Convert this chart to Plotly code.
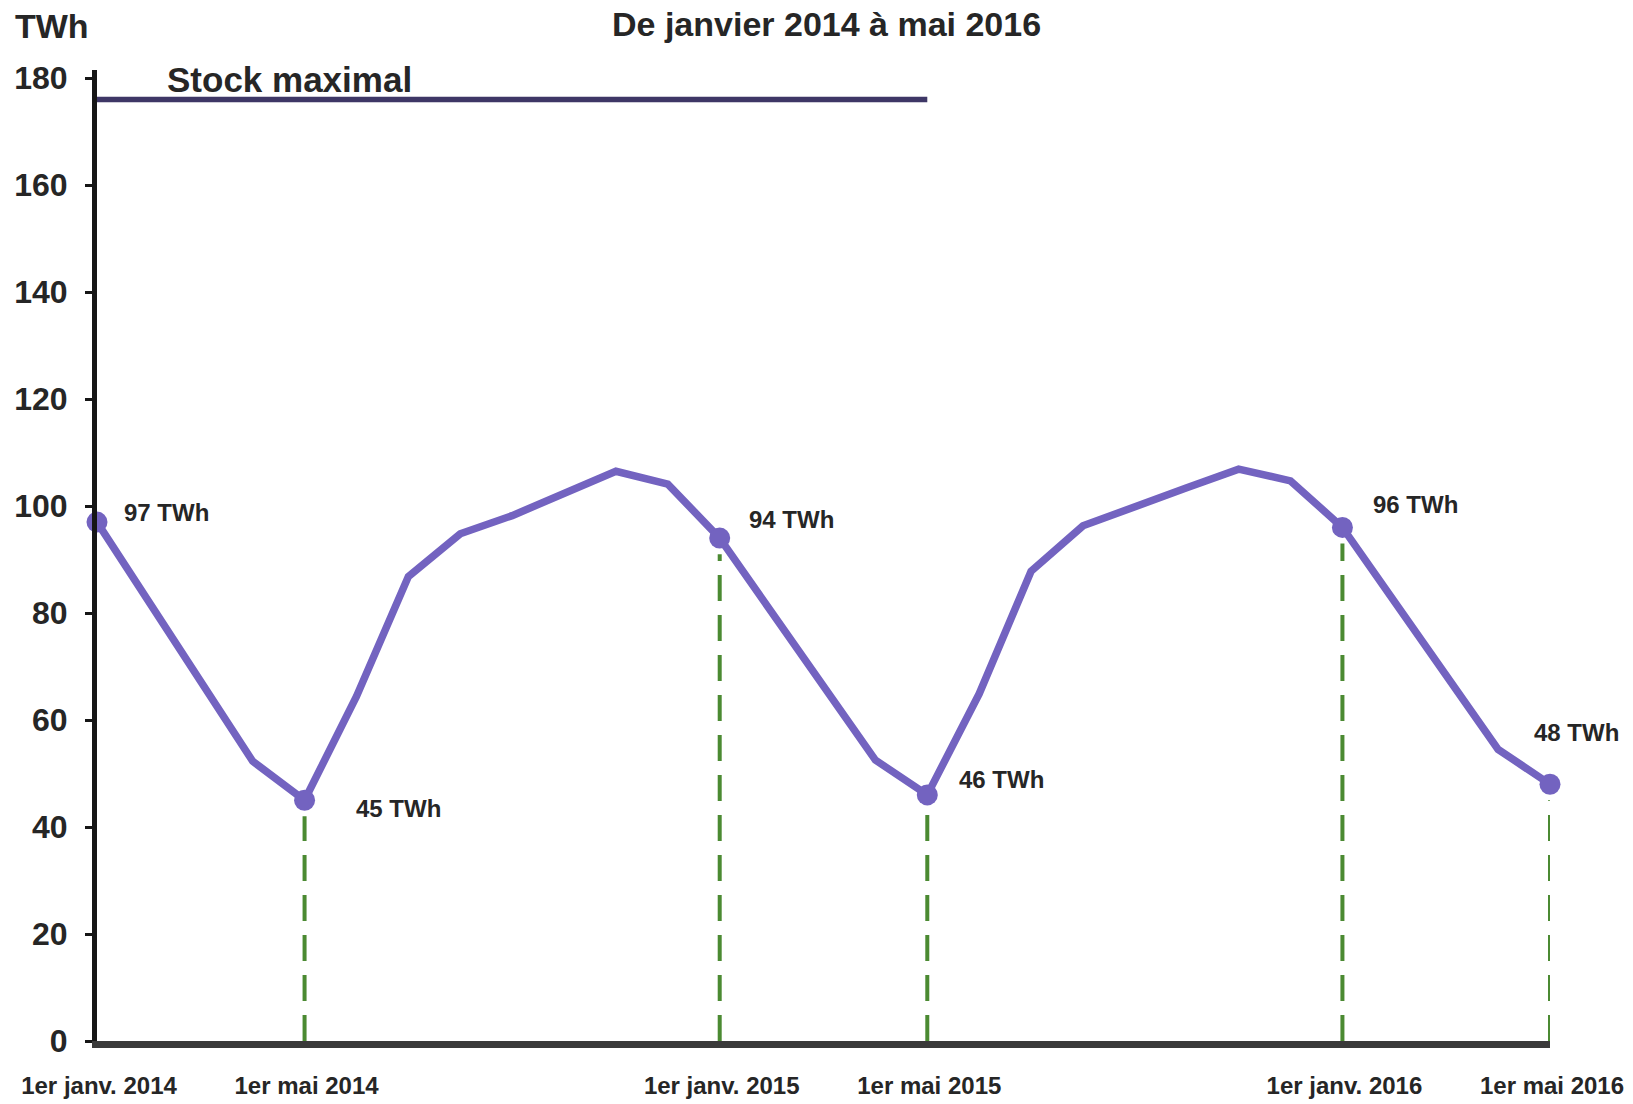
import plotly.graph_objects as go

# ---------------- data ----------------
months = ["2014-01", "2014-04", "2014-05", "2014-06", "2014-07", "2014-08", "2014-09",
          "2014-10", "2014-11", "2014-12", "2015-01", "2015-04", "2015-05", "2015-06",
          "2015-07", "2015-08", "2015-09", "2015-10", "2015-11", "2015-12", "2016-01",
          "2016-04", "2016-05"]
stock_twh = [97, 52.3, 45, 64.4, 86.8, 94.8, 98.2, 102.3, 106.5, 104.1, 94, 52.5, 46,
             64.9, 87.8, 96.3, 99.7, 103.4, 106.9, 104.7, 96, 54.5, 48]

key_months = ["2014-01", "2014-05", "2015-01", "2015-05", "2016-01", "2016-05"]
key_values = [97, 45, 94, 46, 96, 48]
key_texts = ["97 TWh", "45 TWh", "94 TWh", "46 TWh", "96 TWh", "48 TWh"]

tick_months = ["2014-01", "2014-05", "2015-01", "2015-05", "2016-01", "2016-05"]
tick_labels = ["1er janv. 2014", "1er mai 2014", "1er janv. 2015", "1er mai 2015",
               "1er janv. 2016", "1er mai 2016"]

stock_max_months = ["2014-01", "2015-05"]
stock_max_value = 176

y_ticks = [0, 20, 40, 60, 80, 100, 120, 140, 160, 180]

title_text = "De janvier 2014 à mai 2016"
unit_text = "TWh"
stock_max_text = "Stock maximal"

# ---------------- styles ----------------
FONT = "Liberation Sans, Arial, sans-serif"
TXT = "#262626"
PURPLE = "#7363c0"
GREEN = "#4b8a32"
# label offsets (px): (xshift, yshift, xanchor)
label_offsets = [(25, 10, "left"), (49, -8, "left"), (27, 19, "left"),
                 (30, 15, "left"), (29, 23, "left"), (26, 52, "center")]


def midx(s):
    y, m = s.split("-")
    return (int(y) - 2014) * 12 + int(m) - 1


fig = go.Figure()

# green dashed guides (from axis up to just below each key point, except the first)
for mo, v in zip(key_months[1:], key_values[1:]):
    fig.add_trace(go.Scatter(
        x=[midx(mo), midx(mo)], y=[0, v - 3], mode="lines",
        line=dict(color=GREEN, width=4, dash="26px,14px"),
        hoverinfo="skip", showlegend=False, cliponaxis=False))

# stock maximal line
fig.add_trace(go.Scatter(
    x=[midx(m) for m in stock_max_months], y=[stock_max_value] * len(stock_max_months),
    mode="lines", line=dict(color="#3e3766", width=5.5),
    showlegend=False, cliponaxis=False))

# main curve
fig.add_trace(go.Scatter(
    x=[midx(m) for m in months], y=stock_twh, mode="lines",
    line=dict(color=PURPLE, width=7.5), showlegend=False, cliponaxis=False))

# key markers
fig.add_trace(go.Scatter(
    x=[midx(m) for m in key_months], y=key_values, mode="markers",
    marker=dict(color=PURPLE, size=21), showlegend=False, cliponaxis=False))

# value labels
for mo, v, t, (dx, dy, xa) in zip(key_months, key_values, key_texts, label_offsets):
    fig.add_annotation(x=midx(mo), y=v, text=t, showarrow=False,
                       xanchor=xa, yanchor="middle", xshift=dx, yshift=dy,
                       font=dict(family=FONT, size=24, color=TXT, weight="bold"))

# stock maximal label
fig.add_annotation(x=midx(stock_max_months[0]), y=stock_max_value, text=stock_max_text,
                   showarrow=False, xanchor="left", yanchor="middle", xshift=68, yshift=20,
                   font=dict(family=FONT, size=35, color=TXT, weight="bold"))

# unit label
fig.add_annotation(xref="paper", yref="paper", x=-0.058, y=1.048, text=unit_text,
                   showarrow=False, xanchor="left", yanchor="middle", yshift=-3,
                   font=dict(family=FONT, size=34, color=TXT, weight="bold"))

# title
fig.add_annotation(xref="paper", yref="paper", x=0.5021, y=1.058, text=title_text,
                   showarrow=False, xanchor="center", yanchor="middle", yshift=-10,
                   font=dict(family=FONT, size=34, color=TXT, weight="bold"))

# The page places the figure 8 px from the top-left corner; margins compensate.
fig.update_layout(
    width=1633, height=1104,
    margin=dict(l=89, r=91, t=62, b=71, autoexpand=False),
    paper_bgcolor="white", plot_bgcolor="white",
    showlegend=False,
    xaxis=dict(range=[0, 28], tickvals=[midx(m) for m in tick_months], ticktext=tick_labels,
               showgrid=False, zeroline=False, showline=True, linecolor="#3a3a3a",
               linewidth=7, ticks="", ticklabelstandoff=17, ticklabelshift=2,
               tickfont=dict(family=FONT, size=24, color=TXT, weight="bold")),
    yaxis=dict(range=[0, 181.5], tickvals=y_ticks, showgrid=False, zeroline=False,
               showline=True, linecolor="#161616", linewidth=5, ticks="outside",
               ticklen=7, tickwidth=3, tickcolor="#161616", ticklabelstandoff=11,
               tickfont=dict(family=FONT, size=32, color=TXT, weight="bold")),
)

fig.write_html("out.html")
